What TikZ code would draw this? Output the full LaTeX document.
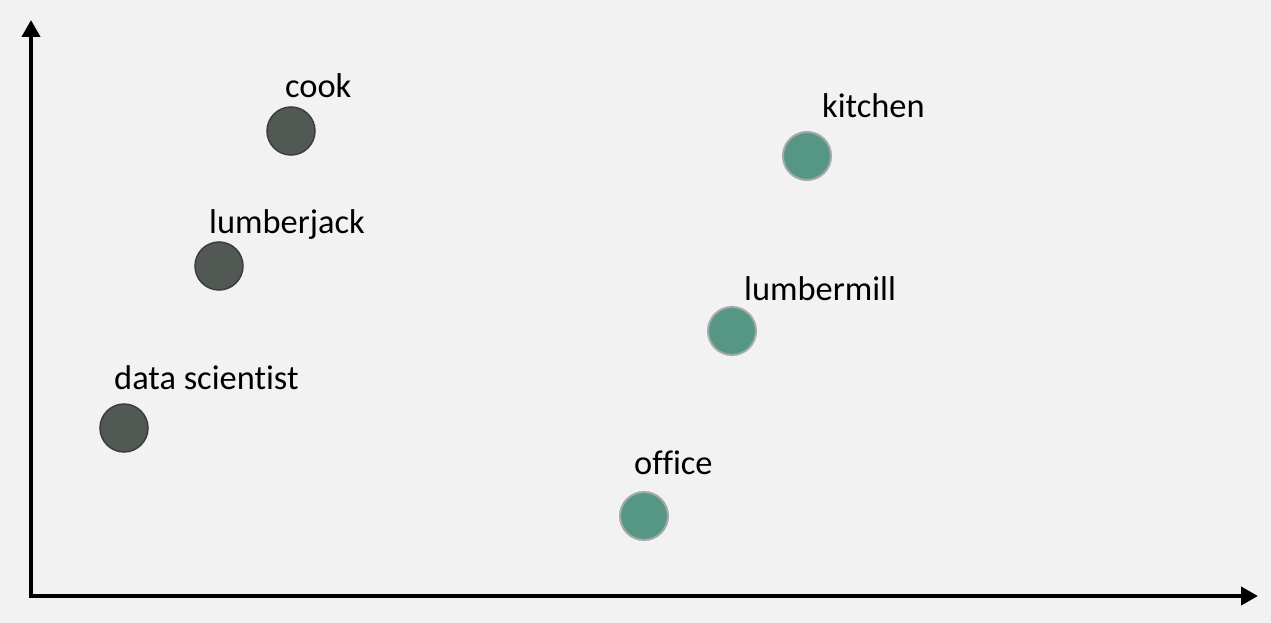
\documentclass[tikz,border=0pt]{standalone}
\usepackage{fontspec}
\setmainfont{Carlito}[RawFeature={-liga;-clig;-dlig}]
\usetikzlibrary{arrows.meta}
\definecolor{bgc}{HTML}{F2F2F2}
\definecolor{darkfill}{HTML}{525955}
\definecolor{darkline}{HTML}{3A3F3C}
\definecolor{greenfill}{HTML}{559684}
\definecolor{greenline}{HTML}{A3ABA7}
\tikzset{
  darkdot/.style={circle,fill=darkfill,draw=darkline,line width=1.5pt,minimum size=48pt,inner sep=0pt},
  greendot/.style={circle,fill=greenfill,draw=greenline,line width=2pt,minimum size=48pt,inner sep=0pt},
  lbl/.style={anchor=base west,inner sep=0pt,font=\fontsize{34.4}{40}\selectfont},
  axis/.style={line width=4pt,-{Triangle[width=18pt,length=17pt]}}
}
\begin{document}
\begin{tikzpicture}[x=1pt,y=-1pt]
\fill[bgc] (0,0) rectangle (1271,623);
\useasboundingbox (0,0) rectangle (1271,623);
\coordinate (origin) at (31,596);
\coordinate (ytip) at (31,20);
\coordinate (xtip) at (1258,596);
\draw[axis] ([yshift=-2pt]origin) -- (ytip);
\draw[axis] ([xshift=-2pt]origin) -- (xtip);
\node[darkdot] (cook) at (291,131) {};
\node[darkdot] (lumberjack) at (219,266) {};
\node[darkdot] (ds) at (124,428) {};
\node[greendot] (kitchen) at (807,156) {};
\node[greendot] (lumbermill) at (732,331) {};
\node[greendot] (office) at (644,516) {};
\node[lbl] (tcook) at (285,98) {cook};
\node[lbl] (tlumberjack) at (209,233) {lumberjack};
\node[lbl] (tds) at (114,389) {data scientist};
\node[lbl] (tkitchen) at (822,118) {kitchen};
\node[lbl] (tlumbermill) at (744,300) {lumbermill};
\node[lbl] (toffice) at (634,474) {office};
\end{tikzpicture}
\end{document}
